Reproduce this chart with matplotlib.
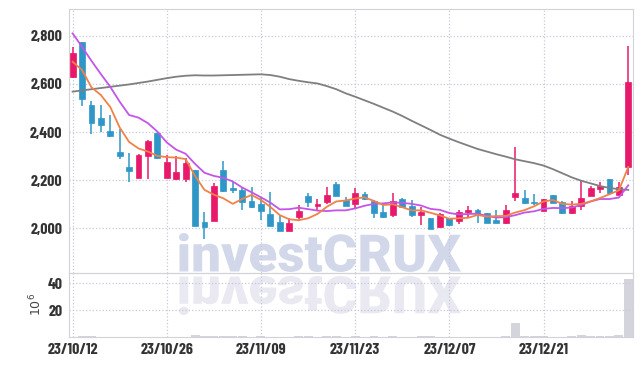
import matplotlib
matplotlib.use('Agg')
import matplotlib.pyplot as plt
import numpy as np
import pandas as pd
from matplotlib.textpath import TextPath
from matplotlib.patches import PathPatch
from matplotlib.font_manager import FontProperties
from matplotlib.transforms import Affine2D

# Торговые дни (KRX, без праздников)
dates = pd.bdate_range('2023-10-12', '2024-01-08', freq='C',
                       holidays=['2023-12-25', '2023-12-29', '2024-01-01'])

opens = [2630, 2773, 2512, 2459, 2405, 2317, 2256, 2211, 2301, 2395,
         2211, 2204, 2207, 2243, 2027, 2032, 2243, 2167, 2160, 2115,
         2102, 2060, 2027, 1991, 2046, 2135, 2091, 2111, 2185, 2118,
         2100, 2143, 2114, 2068, 2056, 2122, 2091, 2056, 2042, 2007,
         2042, 2032, 2067, 2077, 2063, 2035, 2024, 2132, 2125, 2111,
         2074, 2138, 2110, 2063, 2093, 2135, 2163, 2204, 2139, 2256]
highs = [2752, 2775, 2530, 2511, 2470, 2414, 2312, 2308, 2367, 2398,
         2305, 2302, 2294, 2243, 2068, 2188, 2280, 2192, 2170, 2170,
         2125, 2150, 2056, 2042, 2098, 2149, 2121, 2173, 2194, 2132,
         2166, 2153, 2118, 2100, 2146, 2128, 2118, 2088, 2045, 2062,
         2045, 2077, 2091, 2082, 2066, 2077, 2099, 2337, 2160, 2142,
         2124, 2140, 2112, 2115, 2201, 2176, 2194, 2204, 2192, 2759]
lows = [2625, 2508, 2391, 2402, 2378, 2290, 2192, 2208, 2207, 2290,
        2208, 2200, 2194, 2012, 1955, 2030, 2150, 2146, 2075, 2086,
        2035, 2008, 1991, 1990, 2035, 2090, 2077, 2100, 2134, 2093,
        2084, 2120, 2042, 2042, 2049, 2085, 2049, 2015, 1998, 2000,
        2010, 2019, 2049, 2022, 2024, 2022, 2017, 2114, 2100, 2098,
        2072, 2104, 2059, 2059, 2077, 2133, 2146, 2144, 2137, 2222]
closes = [2727, 2537, 2439, 2431, 2385, 2301, 2240, 2305, 2363, 2294,
          2276, 2234, 2273, 2012, 2007, 2176, 2156, 2160, 2111, 2090,
          2073, 2010, 1991, 2024, 2073, 2110, 2102, 2139, 2136, 2095,
          2149, 2124, 2066, 2049, 2114, 2088, 2056, 2070, 1998, 2060,
          2015, 2068, 2077, 2060, 2024, 2024, 2077, 2147, 2107, 2107,
          2121, 2107, 2066, 2093, 2125, 2167, 2178, 2146, 2174, 2609]

# Скользящие средние
ma5 = [2692, 2658, 2586, 2554, 2504, 2419, 2359, 2332, 2319, 2301,
       2296, 2294, 2288, 2218, 2160, 2140, 2125, 2102, 2122, 2139,
       2118, 2089, 2055, 2038, 2034, 2042, 2060, 2090, 2112, 2116,
       2124, 2129, 2114, 2097, 2100, 2088, 2075, 2075, 2065, 2054,
       2040, 2042, 2044, 2056, 2049, 2051, 2052, 2066, 2076, 2092,
       2112, 2118, 2102, 2099, 2102, 2112, 2126, 2142, 2158, 2255]
ma10 = [2810, 2754, 2696, 2641, 2588, 2526, 2471, 2460, 2437, 2402,
        2357, 2327, 2310, 2268, 2231, 2218, 2210, 2195, 2170, 2150,
        2129, 2107, 2079, 2080, 2086, 2080, 2074, 2072, 2075, 2075,
        2083, 2094, 2102, 2104, 2108, 2106, 2102, 2095, 2081, 2077,
        2064, 2058, 2060, 2061, 2052, 2045, 2047, 2055, 2066, 2071,
        2081, 2085, 2084, 2087, 2097, 2112, 2122, 2122, 2128, 2179]
ma_long = [2568, 2573, 2578, 2583, 2588, 2593, 2598, 2604, 2610, 2617,
           2624, 2630, 2634, 2636, 2635, 2635, 2636, 2637, 2638, 2639,
           2640, 2637, 2630, 2620, 2613, 2607, 2602, 2591, 2578, 2561,
           2547, 2532, 2517, 2501, 2485, 2467, 2447, 2428, 2409, 2389,
           2373, 2358, 2344, 2330, 2319, 2308, 2298, 2287, 2279, 2271,
           2261, 2246, 2229, 2212, 2198, 2187, 2176, 2168, 2163, 2160]

# Объём, млн
volume = [0.2, 0.8, 0.8, 0.2, 0.2, 0.2, 0.2, 0.2, 0.2, 0.2,
          0.2, 0.2, 0.2, 1.5, 0.7, 0.7, 0.7, 0.7, 0.7, 0.2,
          0.7, 0.2, 0.2, 0.2, 0.6, 0.6, 0.2, 0.6, 0.6, 0.2,
          0.6, 0.2, 0.6, 0.2, 0.6, 0.2, 0.2, 0.6, 0.6, 0.2,
          0.2, 0.2, 0.2, 0.2, 0.2, 0.2, 0.5, 10.4, 0.6, 0.6,
          0.6, 0.2, 0.2, 0.6, 1.4, 0.6, 0.6, 0.6, 1.5, 43.6]

up_color = '#e8196a'
down_color = '#2f96c8'
grid_color = '#c6c9dc'
spine_color = '#d2d2d8'
label_font = ['Barlow Condensed', 'Roboto Condensed', 'DejaVu Sans']

fig = plt.figure(figsize=(6.43, 3.66), dpi=100)

# Фон с водяным знаком
bg = fig.add_axes([0, 0, 1, 1], zorder=-1)
bg.set_xlim(0, 643)
bg.set_ylim(366, 0)
bg.axis('off')
tp = TextPath((0, 0), 'investCRUX', size=100,
              prop=FontProperties(family=['Roboto', 'DejaVu Sans'], weight='heavy'))
bb = tp.get_extents()
sx = (461 - 179) / bb.width
sy = (272 - 233) / bb.height
tr_top = Affine2D().translate(-bb.x0, -bb.y0).scale(sx, -sy).translate(179, 272)
bg.add_patch(PathPatch(tp, transform=tr_top + bg.transData,
                       facecolor='#d2d8ea', edgecolor='none'))
tr_ref = Affine2D().translate(-bb.x0, -bb.y0).scale(sx, sy).translate(179, 276)
bg.add_patch(PathPatch(tp, transform=tr_ref + bg.transData,
                       facecolor='#e8e9f1', edgecolor='none'))

ax = fig.add_axes([0.1078, 0.2549, 0.8766, 0.7197])
axv = fig.add_axes([0.1078, 0.0792, 0.8766, 0.1757], sharex=ax)
for a in (ax, axv):
    a.set_facecolor('none')
    for s in a.spines.values():
        s.set_color(spine_color)

x = np.arange(len(dates))

# Свечи
for i in x:
    c = up_color if closes[i] >= opens[i] else down_color
    ax.vlines(i, lows[i], highs[i], color=c, linewidth=1.1, zorder=2)
    bottom = min(opens[i], closes[i])
    height = max(abs(closes[i] - opens[i]), 3)
    ax.bar(i, height, bottom=bottom, width=0.62, color=c, edgecolor=c,
           linewidth=0.5, zorder=3)

# Скользящие средние
ax.plot(x, ma_long, color='#7f7f7f', linewidth=1.3, zorder=4)
ax.plot(x, ma10, color='#c355e8', linewidth=1.3, zorder=4)
ax.plot(x, ma5, color='#f08248', linewidth=1.3, zorder=4)

ax.set_ylim(1816, 2910)
ax.set_xlim(-0.35, 59.5)
ax.set_yticks([2000, 2200, 2400, 2600, 2800])
ax.set_yticklabels(['2,000', '2,200', '2,400', '2,600', '2,800'])

tick_pos = x[::10]
tick_labels = [d.strftime('%y/%m/%d') for d in dates[::10]]
ax.set_xticks(tick_pos)
ax.tick_params(axis='x', labelbottom=False, length=0)
ax.tick_params(axis='y', length=0, pad=5)
ax.grid(True, linestyle=':', color=grid_color, linewidth=0.9)

# Объём
axv.bar(x, volume, width=0.95, color='#d4d4dc', edgecolor='none')
axv.set_ylim(0, 48)
axv.set_yticks([20, 40])
axv.set_xticks(tick_pos)
axv.set_xticklabels(tick_labels)
axv.tick_params(axis='y', length=0, pad=5)
axv.tick_params(axis='x', length=0, pad=4)
axv.grid(True, linestyle=':', color=grid_color, linewidth=0.9)
axv.set_ylabel('$10^6$', fontsize=9, color='#444444', labelpad=2)

for lab in ax.get_yticklabels() + axv.get_yticklabels() + axv.get_xticklabels():
    lab.set_family(label_font)
    lab.set_fontweight('bold')
    lab.set_fontsize(11.5)
    lab.set_color('#333333')

fig.savefig('out.png', dpi=100)
